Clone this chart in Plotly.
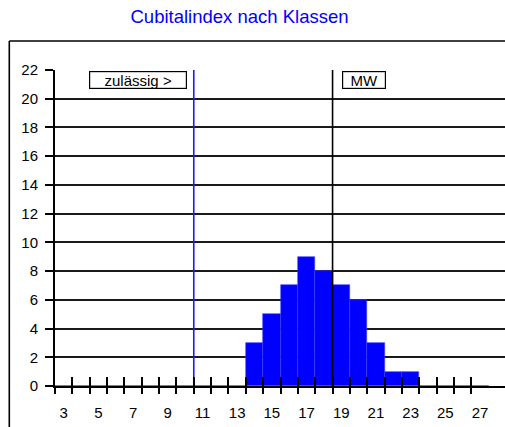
import plotly.graph_objects as go

# --- data -------------------------------------------------------------
klassen = list(range(3, 28))                      # Cubitalindex classes 3..27
anzahl = [0, 0, 0, 0, 0, 0, 0, 0, 0, 0, 0,        # 3..13
          3, 5, 7, 9, 8, 7, 6, 3, 1, 1,           # 14..23
          0, 0, 0, 0]                             # 24..27
x_ticklabels = [str(k) for k in range(3, 28, 2)]
y_ticks = list(range(0, 23, 2))
zulaessig_grenze = 10.5    # boundary between class 10 and 11
mittelwert = 18.5          # MW line position
titel = "Cubitalindex nach Klassen"

FONT = "Liberation Sans, Arial, sans-serif"
BLUE = "#0000ff"
boundaries = [k - 0.5 for k in klassen]
xr = [2.5, 28.44]

fig = go.Figure()
fig.add_trace(go.Bar(x=klassen, y=anzahl, width=1.0,
                     marker=dict(color=BLUE, line=dict(color="#3c3cff", width=0.6)),
                     hoverinfo="x+y", showlegend=False))
fig.add_trace(go.Scatter(x=[zulaessig_grenze, zulaessig_grenze], y=[0, 22], mode="lines",
                         line=dict(color="#1a1aff", width=1.6), showlegend=False))
fig.add_trace(go.Scatter(x=[mittelwert, mittelwert], y=[0, 22], mode="lines",
                         line=dict(color="black", width=1.6), showlegend=False))
# helper traces so the tick-only axes are rendered
fig.add_trace(go.Scatter(x=[None], y=[None], xaxis="x2", yaxis="y", showlegend=False))
fig.add_trace(go.Scatter(x=[None], y=[None], xaxis="x3", yaxis="y", showlegend=False))

fig.update_layout(
    width=505, height=427,
    margin=dict(l=55, r=0, t=70, b=41),
    paper_bgcolor="white", plot_bgcolor="white",
    font=dict(family=FONT, size=15, color="black"),
    title=dict(text=titel, x=239.5 / 505, xanchor="center", xref="container",
               y=1 - 17 / 427, yanchor="middle",
               font=dict(family=FONT, size=18.5, color=BLUE)),
    bargap=0,
    xaxis=dict(range=xr, tickmode="array", tickvals=list(range(3, 28, 2)), ticktext=x_ticklabels,
               ticks="outside", ticklen=12, tickcolor="rgba(0,0,0,0)", automargin=False,
               showgrid=False, zeroline=False, showline=True, linecolor="black", linewidth=1.6,
               tickfont=dict(family=FONT, size=15, color="black")),
    xaxis2=dict(range=xr, overlaying="x", anchor="y", side="bottom", tickmode="array",
                tickvals=boundaries, ticks="outside", ticklen=7, tickwidth=1.6, tickcolor="black",
                showticklabels=False, showgrid=False, zeroline=False, showline=False,
                automargin=False),
    xaxis3=dict(range=xr, overlaying="x", anchor="y", side="bottom", tickmode="array",
                tickvals=boundaries, ticks="inside", ticklen=9, tickwidth=1.6, tickcolor="black",
                showticklabels=False, showgrid=False, zeroline=False, showline=False,
                automargin=False),
    yaxis=dict(range=[0, 22], tickmode="array", tickvals=y_ticks, automargin=False,
               ticks="outside", ticklen=8, tickwidth=1.6, tickcolor="black",
               showgrid=True, gridcolor="#1a1a1a", gridwidth=1.5,
               zeroline=False, showline=True, linecolor="black", linewidth=2,
               tickfont=dict(family=FONT, size=15, color="black"), ticklabelstandoff=4),
    annotations=[
        dict(text="zulässig >", x=zulaessig_grenze, y=22, xref="x", yref="y",
             xanchor="right", yanchor="top", xshift=-7, yshift=-1, showarrow=False,
             width=96, height=16, borderpad=0, bordercolor="black", borderwidth=1.2,
             bgcolor="white", font=dict(family=FONT, size=15, color="black")),
        dict(text="MW", x=mittelwert, y=22, xref="x", yref="y",
             xanchor="left", yanchor="top", xshift=9, yshift=-1, showarrow=False,
             width=42, height=16, borderpad=0, bordercolor="black", borderwidth=1.2,
             bgcolor="white", font=dict(family=FONT, size=15, color="black")),
    ],
    shapes=[
        dict(type="line", xref="paper", yref="paper", x0=(9.3 - 55) / 450, x1=1.0,
             y0=(386 - 41) / 316, y1=(386 - 41) / 316, line=dict(color="black", width=1.6)),
        dict(type="line", xref="paper", yref="paper", x0=(9.3 - 55) / 450, x1=(9.3 - 55) / 450,
             y0=(386 - 41) / 316, y1=(386 - 427) / 316, line=dict(color="black", width=1.6)),
    ],
)

fig.write_html("out.html", config={"displayModeBar": False},
               post_script="document.body.style.margin='0';document.body.style.overflow='hidden';")
